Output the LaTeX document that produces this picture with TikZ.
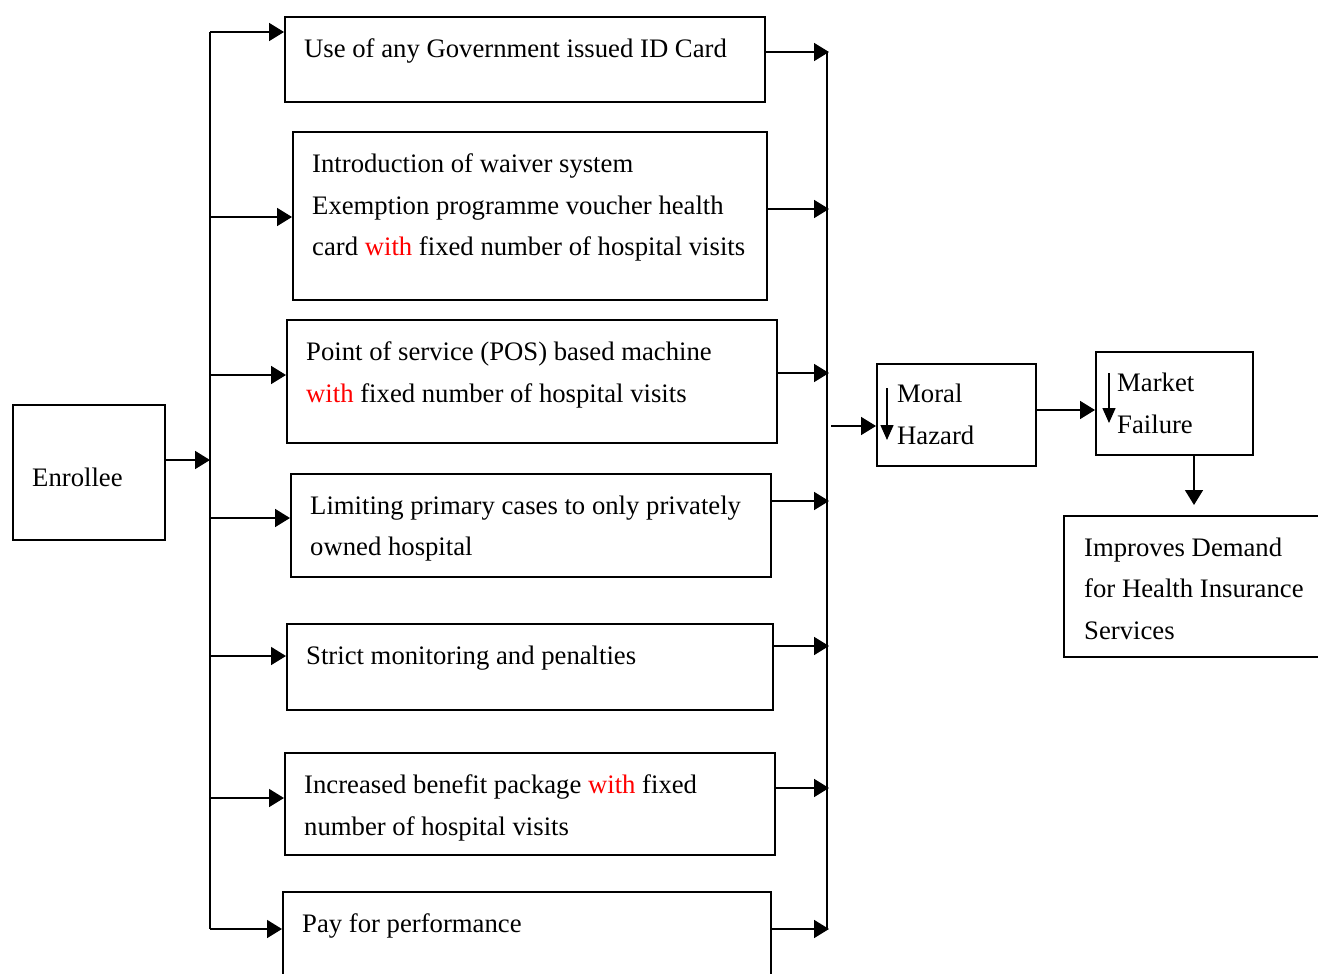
\documentclass[tikz,border=0pt]{standalone}
\usepackage{fontspec}
\setmainfont{Liberation Serif}
\usepackage{tikz}
\usetikzlibrary{arrows.meta,calc}
\def\busL{210}
\def\busR{827}
\def\pad{20}
\def\lift{22.5}

\begin{document}
\begin{tikzpicture}[x=1pt, y=-1pt,
  box/.style={draw, line width=1.7pt, anchor=north west, inner sep=0pt},
  txt/.style={anchor=north west, inner sep=0pt, align=left, font=\fontsize{26.7}{41.5}\selectfont},
  link/.style={line width=1.7pt, -{Triangle[length=15pt, width=18pt]}},
  tick/.style={line width=1.4pt, -{Triangle[length=15pt, width=13pt]}}]
\useasboundingbox (0,0) rectangle (1318,974);

\node[box, minimum width=152pt, minimum height=135pt] (enr) at (12,404) {};
\node[txt] (tenr) at ($(enr.north west)+(\pad,63.5)$) {Enrollee};

\node[box, minimum width=480pt, minimum height=85pt] (b1) at (284,16) {};
\node[txt] (t1) at ($(b1.north west)+(\pad,\lift)$) {Use of any Government issued ID Card};
\node[box, minimum width=474pt, minimum height=168pt] (b2) at (292,131) {};
\node[txt] (t2) at ($(b2.north west)+(\pad,\lift)$) {Introduction of waiver system\\Exemption programme voucher health\\card \textcolor{red}{with} fixed number of hospital visits};
\node[box, minimum width=490pt, minimum height=123pt] (b3) at (286,319) {};
\node[txt] (t3) at ($(b3.north west)+(\pad,\lift)$) {Point of service (POS) based machine\\\textcolor{red}{with} fixed number of hospital visits};
\node[box, minimum width=480pt, minimum height=103pt] (b4) at (290,473) {};
\node[txt] (t4) at ($(b4.north west)+(\pad,\lift)$) {Limiting primary cases to only privately\\owned hospital};
\node[box, minimum width=486pt, minimum height=86pt] (b5) at (286,623) {};
\node[txt] (t5) at ($(b5.north west)+(\pad,\lift)$) {Strict monitoring and penalties};
\node[box, minimum width=490pt, minimum height=102pt] (b6) at (284,752) {};
\node[txt] (t6) at ($(b6.north west)+(\pad,\lift)$) {Increased benefit package \textcolor{red}{with} fixed\\number of hospital visits};
\node[box, minimum width=488pt, minimum height=110pt] (b7) at (282,891) {};
\node[txt] (t7) at ($(b7.north west)+(\pad,\lift)$) {Pay for performance};

\node[box, minimum width=159pt, minimum height=102pt] (mh) at (876,363) {};
\node[txt] (tmh) at ($(mh.north west)+(21,21)$) {Moral\\Hazard};
\node[box, minimum width=157pt, minimum height=103pt] (mf) at (1095,351) {};
\node[txt] (tmf) at ($(mf.north west)+(22,22)$) {Market\\Failure};
\node[box, minimum width=280pt, minimum height=141pt] (imp) at (1063,515) {};
\node[txt] (timp) at ($(imp.north west)+(21,22.5)$) {Improves Demand\\for Health Insurance\\Services};

\coordinate (lt) at (\busL,32);
\coordinate (lb) at (\busL,929);
\coordinate (rt) at (\busR,52);
\coordinate (rb) at (\busR,929);
\draw[line width=1.7pt] (lt) -- (lb);
\draw[line width=1.7pt] (rt) -- (rb);

\draw[link] (enr.east |- 0,460) -- (lt |- 0,460);
\foreach \b/\y in {b1/32, b2/217, b3/375, b4/518, b5/656, b6/798, b7/929}
  \draw[link] (lt |- 0,\y) -- (\b.west |- 0,\y);
\foreach \b/\y in {b1/52, b2/209, b3/373, b4/501, b5/646, b6/788, b7/929}
  \draw[link] (\b.east |- 0,\y) -- ($(rt |- 0,\y)+(2,0)$);

\draw[link] ($(rt |- 0,426)+(4,0)$) -- (mh.west |- 0,426);
\draw[link] (mh.east |- 0,410) -- (mf.west |- 0,410);
\draw[link, shorten >=10pt] (mf.south -| 1194,0) -- (imp.north -| 1194,0);

\coordinate (mha) at ($(mh.north west)+(11,25)$);
\coordinate (mhb) at ($(mh.north west)+(11,77)$);
\draw[tick] (mha) -- (mhb);
\coordinate (mfa) at ($(mf.north west)+(14,22)$);
\coordinate (mfb) at ($(mf.north west)+(14,72)$);
\draw[tick] (mfa) -- (mfb);
\end{tikzpicture}
\end{document}
